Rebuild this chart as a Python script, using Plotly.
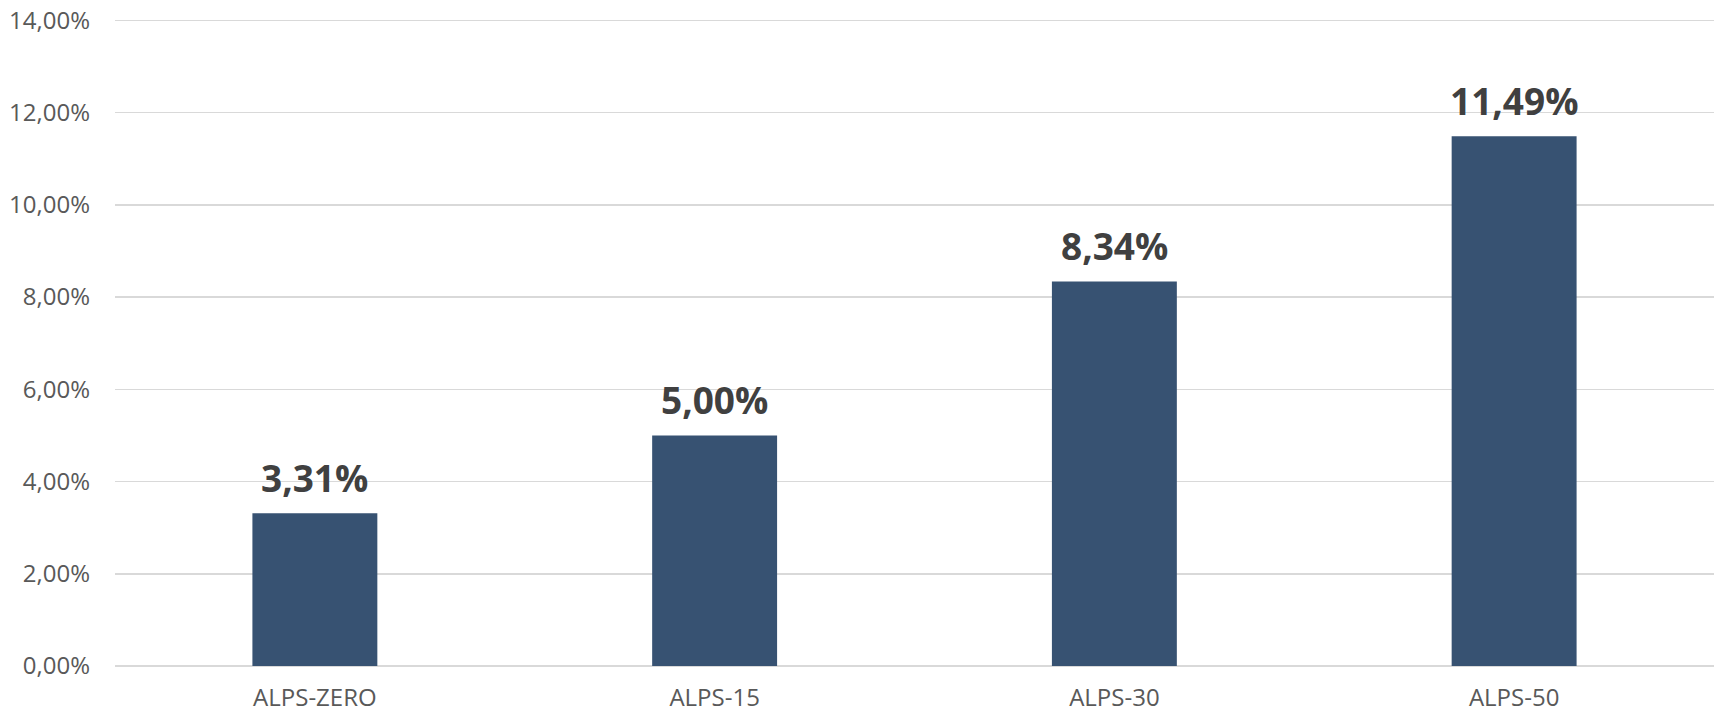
import plotly.graph_objects as go

categories = ["ALPS-ZERO", "ALPS-15", "ALPS-30", "ALPS-50"]
values = [0.0331, 0.0500, 0.0834, 0.1149]
labels = ["3,31%", "5,00%", "8,34%", "11,49%"]
y_ticks = [0, 0.02, 0.04, 0.06, 0.08, 0.10, 0.12, 0.14]

fig = go.Figure()
fig.add_trace(go.Bar(
    x=categories, y=values,
    marker=dict(color="#375272", line=dict(width=0)),
    hoverinfo="skip",
))

for c, v, t in zip(categories, values, labels):
    fig.add_annotation(
        x=c, y=v, text=t, showarrow=False,
        xanchor="center", yanchor="bottom", yshift=8,
        font=dict(family="Open Sans", size=37, color="#404040", weight="bold"),
    )

fig.update_layout(
    width=1717, height=713,
    margin=dict(l=115, r=3, t=19, b=47, autoexpand=False),
    paper_bgcolor="white", plot_bgcolor="white",
    separators=",.",
    bargap=0.6875,
    showlegend=False,
    font=dict(family="Open Sans", color="#595959"),
)
fig.update_yaxes(
    range=[0, 0.1403], tickvals=y_ticks,
    tickformat=".2%", automargin=False,
    ticklabeloverflow="allow",
    showgrid=True, gridcolor="#d9d9d9", gridwidth=1.5,
    zeroline=True, zerolinecolor="#d9d9d9", zerolinewidth=1.5,
    showline=False, ticks="", ticklabelstandoff=24,
    tickfont=dict(family="Open Sans", size=24, color="#595959"),
)
fig.update_xaxes(
    showgrid=False, showline=False, ticks="", ticklabelstandoff=15,
    automargin=False, ticklabeloverflow="allow",
    tickfont=dict(family="Open Sans", size=24, color="#595959"),
)

fig.write_html(
    "out.html",
    config={"displayModeBar": False, "staticPlot": True},
    post_script="document.body.style.margin='0';document.body.style.overflow='hidden';",
)
